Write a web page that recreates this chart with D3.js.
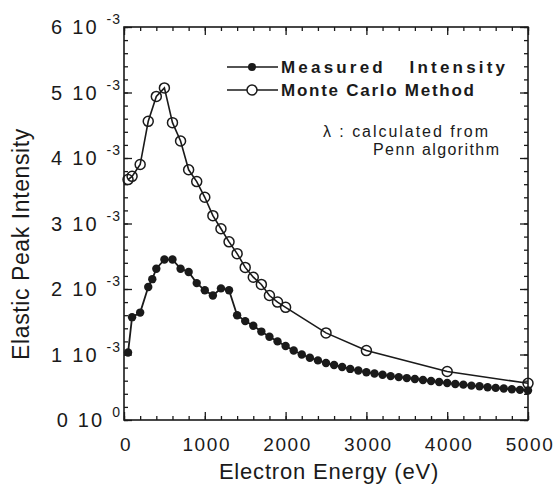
<!DOCTYPE html>
<html lang="en">
<head>
    <meta charset="UTF-8">
    <title>Elastic Peak Intensity vs Electron Energy</title>
    <script src="https://cdn.jsdelivr.net/npm/d3@7"></script>
    <style>
        body { margin: 0; background: #fff; }
        * { font-family: 'Liberation Sans', Arial, sans-serif; }
        .tick line { stroke: #1a1a1a; stroke-width: 1.3; }
        .domain { display: none; }
    </style>
</head>
<body>
<script>
    // energies in eV, intensities in units of 10^-3
    const measuredE = [50, 100, 200, 300, 350, 400, 500, 600, 700, 800, 900, 1000, 1100, 1200, 1300,
        1400, 1500, 1600, 1700, 1800, 1900, 2000, 2100, 2200, 2300, 2400, 2500, 2600, 2700, 2800, 2900,
        3000, 3100, 3200, 3300, 3400, 3500, 3600, 3700, 3800, 3900, 4000, 4100, 4200, 4300, 4400, 4500,
        4600, 4700, 4800, 4900, 5000];
    const measuredI = [1.03, 1.57, 1.64, 2.03, 2.15, 2.31, 2.45, 2.45, 2.31, 2.26, 2.09, 1.98, 1.90, 2.01, 1.98,
        1.60, 1.51, 1.44, 1.35, 1.27, 1.20, 1.13, 1.06, 1.00, 0.95, 0.91, 0.87, 0.84, 0.81, 0.78, 0.755,
        0.73, 0.71, 0.69, 0.67, 0.655, 0.64, 0.625, 0.61, 0.595, 0.58, 0.565, 0.55, 0.54, 0.525, 0.515, 0.50,
        0.49, 0.48, 0.47, 0.46, 0.45];

    const monteE = [50, 100, 200, 300, 400, 500, 600, 700, 800, 900, 1000, 1100, 1200, 1300, 1400,
        1500, 1600, 1700, 1800, 1900, 2000, 2500, 3000, 4000, 5000];
    const monteI = [3.67, 3.72, 3.90, 4.56, 4.94, 5.07, 4.54, 4.26, 3.82, 3.64, 3.40, 3.12, 2.92, 2.72, 2.54,
        2.33, 2.18, 2.07, 1.90, 1.80, 1.72, 1.33, 1.06, 0.74, 0.56];

    const xTicks = [0, 1000, 2000, 3000, 4000, 5000];
    const yTicks = [0, 1, 2, 3, 4, 5, 6];
    const yMant = ["0 10", "1 10", "2 10", "3 10", "4 10", "5 10", "6 10"];
    const yExp = ["0", "-3", "-3", "-3", "-3", "-3", "-3"];

    const ink = "#1a1a1a";
    const W = 556, H = 485;
    const pl = 124, pr = 528, pt = 27, pb = 420;

    const svg = d3.select("body").append("svg").attr("width", W).attr("height", H);

    const x = d3.scaleLinear().domain([0, 5000]).range([pl, pr]);
    const y = d3.scaleLinear().domain([0, 6]).range([pb, pt]);

    const minorX = d3.range(0, 5001, 200);
    const minorY = d3.range(0, 6.01, 0.2);

    // minor + major ticks, all pointing into the frame
    svg.append("g").attr("transform", `translate(0,${pb})`)
        .call(d3.axisBottom(x).tickValues(minorX).tickSize(-4).tickFormat(""));
    svg.append("g").attr("transform", `translate(0,${pb})`)
        .call(d3.axisBottom(x).tickValues(xTicks).tickSize(-8).tickFormat(""));
    svg.append("g").attr("transform", `translate(0,${pt})`)
        .call(d3.axisTop(x).tickValues(minorX).tickSize(-4).tickFormat(""));
    svg.append("g").attr("transform", `translate(0,${pt})`)
        .call(d3.axisTop(x).tickValues(xTicks).tickSize(-8).tickFormat(""));
    svg.append("g").attr("transform", `translate(${pl},0)`)
        .call(d3.axisLeft(y).tickValues(minorY).tickSize(-4).tickFormat(""));
    svg.append("g").attr("transform", `translate(${pl},0)`)
        .call(d3.axisLeft(y).tickValues(yTicks).tickSize(-8).tickFormat(""));
    svg.append("g").attr("transform", `translate(${pr},0)`)
        .call(d3.axisRight(y).tickValues(minorY).tickSize(-4).tickFormat(""));
    svg.append("g").attr("transform", `translate(${pr},0)`)
        .call(d3.axisRight(y).tickValues(yTicks).tickSize(-8).tickFormat(""));

    svg.append("rect")
        .attr("x", pl).attr("y", pt)
        .attr("width", pr - pl).attr("height", pb - pt)
        .attr("fill", "none").attr("stroke", ink).attr("stroke-width", 1.6);

    // x tick labels
    svg.append("g").selectAll("text").data(xTicks).join("text")
        .attr("x", d => x(d) + 2).attr("y", pb + 31)
        .attr("text-anchor", "middle")
        .attr("font-size", 19).attr("letter-spacing", 1.6)
        .attr("fill", ink)
        .text(d => d);

    // y tick labels: "n 10" with superscript exponent
    const yl = svg.append("g").selectAll("text").data(yTicks).join("text")
        .attr("x", 121).attr("y", d => y(d) + 7)
        .attr("text-anchor", "end")
        .attr("font-size", 20).attr("letter-spacing", 2.2)
        .attr("fill", ink);
    yl.append("tspan").text((d, i) => yMant[i] + " ");
    yl.append("tspan").attr("dy", -10).attr("font-size", 14).attr("letter-spacing", 1)
        .text((d, i) => yExp[i]);

    // axis titles
    svg.append("text")
        .attr("x", 329).attr("y", 479)
        .attr("text-anchor", "middle")
        .attr("font-size", 22).attr("letter-spacing", 0.8)
        .attr("fill", ink)
        .text("Electron Energy (eV)");
    svg.append("text")
        .attr("transform", "translate(29,244) rotate(-90)")
        .attr("text-anchor", "middle")
        .attr("font-size", 23).attr("letter-spacing", 0.6)
        .attr("fill", ink)
        .text("Elastic Peak Intensity");

    const line = d3.line().x(d => x(d[0])).y(d => y(d[1]));
    const mData = measuredE.map((e, i) => [e, measuredI[i]]);
    const cData = monteE.map((e, i) => [e, monteI[i]]);

    svg.append("path").datum(cData).attr("d", line)
        .attr("fill", "none").attr("stroke", ink).attr("stroke-width", 1.6);
    svg.append("path").datum(mData).attr("d", line)
        .attr("fill", "none").attr("stroke", ink).attr("stroke-width", 1.8);

    svg.append("g").selectAll("circle").data(cData).join("circle")
        .attr("cx", d => x(d[0])).attr("cy", d => y(d[1])).attr("r", 5)
        .attr("fill", "none").attr("stroke", ink).attr("stroke-width", 1.5);
    svg.append("g").selectAll("circle").data(mData).join("circle")
        .attr("cx", d => x(d[0])).attr("cy", d => y(d[1])).attr("r", 4.2)
        .attr("fill", ink);

    // legend
    const lg = svg.append("g");
    lg.append("line").attr("x1", 227).attr("x2", 278).attr("y1", 67).attr("y2", 67)
        .attr("stroke", ink).attr("stroke-width", 1.6);
    lg.append("circle").attr("cx", 252).attr("cy", 67).attr("r", 4).attr("fill", ink);
    lg.append("line").attr("x1", 227).attr("x2", 278).attr("y1", 90).attr("y2", 90)
        .attr("stroke", ink).attr("stroke-width", 1.6);
    lg.append("circle").attr("cx", 252).attr("cy", 90).attr("r", 5)
        .attr("fill", "#fff").attr("stroke", ink).attr("stroke-width", 1.5);
    lg.append("text").attr("x", 281).attr("y", 73)
        .attr("font-size", 17).attr("font-weight", "bold")
        .attr("textLength", 224).attr("lengthAdjust", "spacing")
        .style("white-space", "pre").attr("fill", ink)
        .text("Measured   Intensity");
    lg.append("text").attr("x", 281).attr("y", 96)
        .attr("font-size", 17).attr("font-weight", "bold")
        .attr("textLength", 193).attr("lengthAdjust", "spacing")
        .attr("fill", ink)
        .text("Monte Carlo Method");
    lg.append("text").attr("x", 323).attr("y", 137)
        .attr("font-size", 16)
        .attr("textLength", 165).attr("lengthAdjust", "spacing")
        .attr("fill", ink)
        .text("λ : calculated from");
    lg.append("text").attr("x", 373).attr("y", 155)
        .attr("font-size", 16)
        .attr("textLength", 126).attr("lengthAdjust", "spacing")
        .attr("fill", ink)
        .text("Penn algorithm");
</script>
</body>
</html>
